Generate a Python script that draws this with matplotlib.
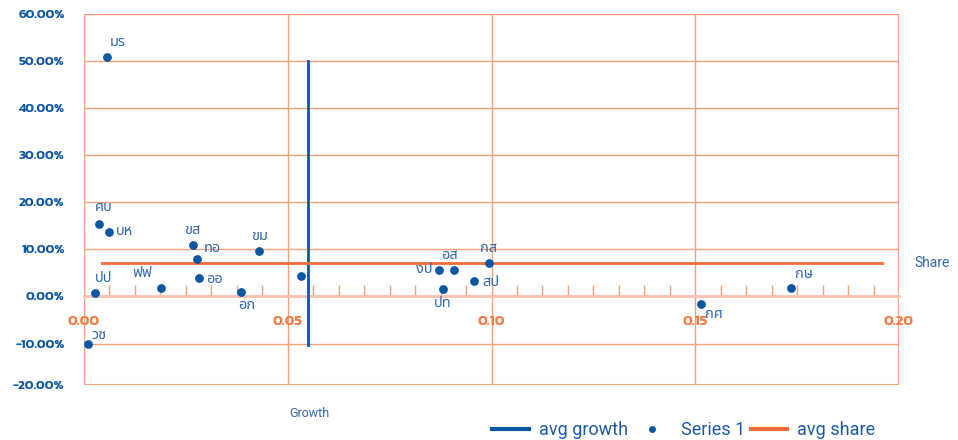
import matplotlib
matplotlib.use("Agg")
import matplotlib.pyplot as plt
from matplotlib.lines import Line2D
from matplotlib.ticker import MultipleLocator, FixedLocator, FuncFormatter

# Data: x = share, y = growth
names = ["มร", "ศบ", "บห", "ขส", "ทอ", "ขม", "ปป", "ฟฟ", "ออ", "อก", "", "วช",
         "งป", "อส", "กส", "สป", "ปท", "กษ", "กศ"]
share = [0.0057, 0.0036, 0.0061, 0.0267, 0.0277, 0.0430, 0.0027, 0.0189, 0.0283,
         0.0385, 0.0533, 0.0009, 0.0872, 0.0907, 0.0995, 0.0957, 0.0880, 0.1735, 0.1514]
growth = [0.509, 0.155, 0.138, 0.110, 0.080, 0.096, 0.007, 0.019, 0.040,
          0.009, 0.044, -0.101, 0.057, 0.057, 0.072, 0.032, 0.016, 0.017, -0.016]
avg_growth_x = 0.055
avg_growth_span = [-0.102, 0.50]
avg_share_y = 0.072
avg_share_span = [0.0043, 0.1958]
y_ticks = [0.6, 0.5, 0.4, 0.3, 0.2, 0.1, 0.0, -0.1, -0.188]
y_tick_labels = ["60.00%", "50.00%", "40.00%", "30.00%", "20.00%", "10.00%",
                 "0.00%", "-10.00%", "-20.00%"]

# label offsets (points) and alignment per label
label_pos = {
    "มร": (2, 5, "left", "bottom"), "ศบ": (-3, 6, "left", "bottom"), "บห": (5, 0, "left", "center"),
    "ขส": (-6, 5, "left", "bottom"), "ทอ": (5, 2, "left", "bottom"), "ขม": (-6, 5, "left", "bottom"),
    "ปป": (0, 5, "left", "bottom"), "ฟฟ": (-6, 5, "right", "bottom"), "ออ": (5, -1, "left", "center"),
    "อก": (-2, -4, "left", "top"), "วช": (3, 1, "left", "bottom"), "งป": (-5, 0, "right", "center"),
    "อส": (-3, 5, "center", "bottom"), "กส": (-1, 5, "center", "bottom"), "สป": (6, -1, "left", "center"),
    "ปท": (0, -5, "center", "top"), "กษ": (3, 5, "left", "bottom"), "กศ": (3, -2, "left", "top"),
}

blue = "#0B57A4"
label_blue = "#3268AC"
orange = "#F26B3A"
grid_c = "#F6A07C"

fig = plt.figure(figsize=(9.58, 4.4), dpi=100)
ax = fig.add_axes([84 / 958, 55 / 440, 815 / 958, 371 / 440])

ax.plot([avg_growth_x, avg_growth_x], avg_growth_span, color=blue, lw=2, zorder=3)
ax.plot(avg_share_span, [avg_share_y, avg_share_y], color=orange, lw=2, zorder=3)
ax.scatter(share, growth, s=28, color=blue, zorder=4)

for n, x, y in zip(names, share, growth):
    if not n:
        continue
    dx, dy, ha, va = label_pos[n]
    ax.annotate(n, (x, y), xytext=(dx, dy), textcoords="offset points", ha=ha, va=va,
                fontsize=10.5, color=label_blue, family=["Noto Sans Thai", "DejaVu Sans"])

ax.set_xlim(0, 0.2)
ax.set_ylim(-0.188, 0.6)
ax.xaxis.set_major_locator(MultipleLocator(0.05))
ax.xaxis.set_minor_locator(MultipleLocator(0.05 / 8))
ax.yaxis.set_major_locator(FixedLocator(y_ticks))
ax.grid(True, which="major", color=grid_c, lw=1)
ax.set_axisbelow(True)

for s in ["top", "right", "left"]:
    ax.spines[s].set_visible(False)
ax.spines["bottom"].set_position(("data", 0))
ax.spines["bottom"].set_color("#F9C3AD")
ax.spines["bottom"].set_linewidth(2)
ax.axhline(0.6, color=grid_c, lw=1.5, zorder=0)
ax.axhline(-0.188, color=grid_c, lw=1.5, zorder=0)
ax.axvline(0, color=grid_c, lw=1.5, zorder=0)
ax.axvline(0.2, color=grid_c, lw=1.5, zorder=0)

ax.tick_params(axis="x", which="both", direction="in", color="#F6A07C", length=8, width=1,
               pad=13, labelcolor="#F47A45", labelsize=10.5)
ax.tick_params(axis="x", which="major", length=0)
ax.tick_params(axis="y", length=0, pad=14, labelcolor=blue, labelsize=9.5)
ax.xaxis.set_major_formatter(FuncFormatter(lambda v, p: f"{v:.2f}"))
ax.set_yticklabels(y_tick_labels)
for lab in ax.get_xticklabels() + ax.get_yticklabels():
    lab.set_fontweight("semibold")
    lab.set_family(["Kanit", "DejaVu Sans"])

fig.text(914 / 958, 1 - 263 / 440, "Share", fontsize=10, color=label_blue,
         family=["Roboto", "DejaVu Sans"], va="center")
fig.text(289 / 958, 1 - 413 / 440, "Growth", fontsize=9, color=label_blue,
         family=["Roboto", "DejaVu Sans"], va="center")

handles = [Line2D([], [], color=blue, lw=3),
           Line2D([], [], color=blue, marker="o", ls="none", markersize=4),
           Line2D([], [], color=orange, lw=3)]
leg = fig.legend(handles, ["avg growth", "Series 1", "avg share"], loc="center",
                 bbox_to_anchor=(684 / 958, 1 - 430 / 440), ncol=3, frameon=False,
                 handlelength=2.0, handletextpad=0.6, columnspacing=0.3,
                 prop={"family": ["Roboto", "DejaVu Sans"], "size": 13})
for t in leg.get_texts():
    t.set_color("#1D5AA6")

fig.savefig("out.png", dpi=100)
